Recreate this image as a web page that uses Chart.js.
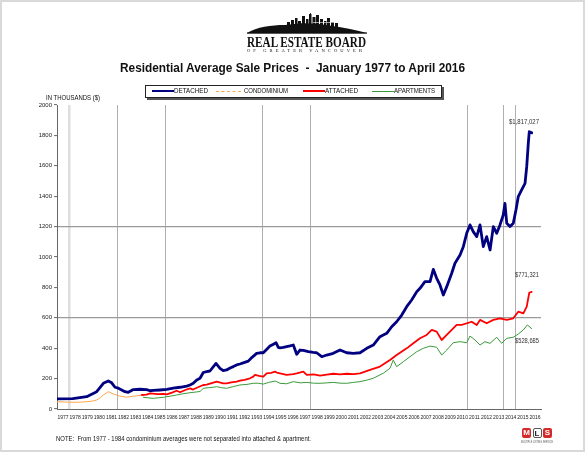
<!DOCTYPE html>
<html><head><meta charset="utf-8">
<script src="https://cdn.jsdelivr.net/npm/chart.js@4.4.1/dist/chart.umd.min.js"></script>
<style>
html,body{margin:0;padding:0;background:#fff;}
#page{position:relative;width:585px;height:452px;overflow:hidden;font-family:"Liberation Sans",Arial,sans-serif;color:#111;}
#frame{position:absolute;left:0;top:0;width:581px;height:448px;border:2px solid #d9d9d9;pointer-events:none;z-index:5;}
#c{position:absolute;left:0;top:0;}
.t{position:absolute;white-space:pre;transform-origin:0 0;line-height:1;}
#legend{position:absolute;left:145px;top:85px;width:297px;height:13px;box-sizing:border-box;border:1px solid #222;background:#fff;box-shadow:2px 2px 0 #555;}
.lg{position:absolute;height:0;}
.mls{position:absolute;top:428px;width:9px;height:10px;border-radius:2px;font:bold 8px/10px "Liberation Sans",Arial,sans-serif;text-align:center;color:#fff;}
</style></head>
<body><div id="page">
<canvas id="c" width="585" height="452"></canvas>
<svg id="logo" style="position:absolute;left:247px;top:13px" width="120" height="22" viewBox="0 0 120 22">
 <path d="M0,20 C10,14 24,12 38,12 L52,10.5 C62,10 72,11 82,12.5 C96,14 108,17 120,20 Z" fill="#111"/>
 <rect x="0" y="19.5" width="120" height="1.2" fill="#111"/>
 <rect x="40" y="9" width="3" height="4" fill="#111"/>
 <rect x="44" y="7" width="3" height="6" fill="#111"/>
 <rect x="48" y="5" width="2.5" height="7" fill="#111"/>
 <rect x="51" y="8" width="3" height="5" fill="#111"/>
 <rect x="55" y="3" width="3" height="9" fill="#111"/>
 <rect x="59" y="6" width="2.5" height="6" fill="#111"/>
 <rect x="62" y="1" width="2.5" height="11" fill="#111"/>
 <rect x="63" y="0" width="0.8" height="2" fill="#111"/>
 <rect x="65.5" y="4" width="3" height="8" fill="#111"/>
 <rect x="69" y="2" width="3" height="10" fill="#111"/>
 <rect x="73" y="6" width="3" height="7" fill="#111"/>
 <rect x="77" y="8" width="2.5" height="5" fill="#111"/>
 <rect x="80" y="5" width="3" height="8" fill="#111"/>
 <rect x="84" y="9" width="3" height="5" fill="#111"/>
 <rect x="88" y="10" width="3" height="4" fill="#111"/>
 <rect x="66" y="9" width="30" height="1" fill="#fff" opacity="0.6"/>
</svg>
<div class="t" id="reb" style="font-family:'Liberation Serif','DejaVu Serif',serif;font-weight:bold;font-size:15px;top:34.5px;">REAL ESTATE BOARD</div>
<div class="t" id="ogv" style="font-family:'Liberation Serif','DejaVu Serif',serif;font-size:4.5px;letter-spacing:3px;top:49px;">OF GREATER VANCOUVER</div>
<div class="t" id="title" style="font-weight:bold;font-size:13px;top:60.6px;">Residential Average Sale Prices  -  January 1977 to April 2016</div>
<div id="legend"></div>
<div class="lg" style="left:152px;top:90px;width:22px;border-top:2.5px solid #000080;"></div>
<div class="lg" style="left:216px;top:91px;width:25px;border-top:1px dashed #ffa64d;"></div>
<div class="lg" style="left:303px;top:90px;width:22px;border-top:2px solid #ff0000;"></div>
<div class="lg" style="left:372px;top:90.5px;width:22px;border-top:1px solid #3a9a3a;"></div>
<div class="t" id="lg1" style="font-size:6.3px;top:88.2px;">DETACHED</div>
<div class="t" id="lg2" style="font-size:6.3px;top:88.2px;">CONDOMINIUM</div>
<div class="t" id="lg3" style="font-size:6.3px;top:88.2px;">ATTACHED</div>
<div class="t" id="lg4" style="font-size:6.3px;top:88.2px;">APARTMENTS</div>
<div class="t" id="unit" style="font-size:6.3px;top:94.7px;">IN THOUSANDS ($)</div>
<div class="t" id="a1" style="font-size:6.3px;top:119px;color:#333;">$1,817,027</div>
<div class="t" id="a2" style="font-size:6.3px;top:272px;color:#333;">$771,321</div>
<div class="t" id="a3" style="font-size:6.3px;top:338px;color:#333;">$528,685</div>
<div class="t" id="note" style="font-size:6.3px;top:436px;">NOTE:  From 1977 - 1984 condominium averages were not separated into attached &amp; apartment.</div>
<div class="mls" style="left:522px;background:#d42a2a;">M</div>
<div class="mls" style="left:532.5px;background:#fff;color:#222;border:1px solid #555;box-sizing:border-box;">L</div>
<div class="mls" style="left:543px;background:#d42a2a;">S</div>
<div class="t" id="mlst" style="font-size:3px;top:441px;color:#555;">MULTIPLE LISTING SERVICE</div>
<div id="frame"></div>
</div>
<script>
// ---------- data (thousands of dollars; x = decimal year) ----------
const yearLabels = ["1977","1978","1979","1980","1981","1982","1983","1984","1985","1986","1987","1988","1989","1990","1991","1992","1993","1994","1995","1996","1997","1998","1999","2000","2001","2002","2003","2004","2005","2006","2007","2008","2009","2010","2011","2012","2013","2014","2015","2016"];
const yTicks = [0,200,400,600,800,1000,1200,1400,1600,1800,2000];
const gridYears = [1978.0,1982.0,1985.95,1993.98,1997.95,2010.92,2013.9,2014.9];

const detachedT = [1977.0,1978.3,1979.45,1980.28,1980.83,1981.24,1981.52,1981.79,1982.07,1982.62,1982.89,1983.31,1983.86,1984.41,1984.69,1984.96,1985.51,1986.07,1986.61,1987.17,1987.72,1987.99,1988.26,1988.55,1988.82,1989.09,1989.37,1989.64,1990.14,1990.47,1990.74,1991.02,1991.30,1991.57,1991.85,1992.12,1992.45,1992.81,1993.12,1993.50,1993.78,1994.05,1994.36,1994.60,1994.85,1995.10,1995.29,1995.43,1995.70,1995.98,1996.26,1996.53,1996.81,1997.08,1997.36,1997.77,1998.18,1998.46,1998.88,1999.29,1999.83,2000.39,2000.94,2001.49,2002.04,2002.60,2003.14,2003.69,2004.25,2004.66,2005.07,2005.49,2005.90,2006.31,2006.73,2007.00,2007.41,2007.83,2008.10,2008.38,2008.65,2008.93,2009.21,2009.62,2009.89,2010.31,2010.58,2010.86,2011.13,2011.40,2011.69,2011.96,2012.23,2012.51,2012.79,2013.06,2013.34,2013.61,2013.88,2014.02,2014.17,2014.44,2014.71,2014.93,2015.12,2015.40,2015.68,2015.82,2015.95,2016.03,2016.23];
const detachedV = [66,68,81,114,169,184,172,143,137,114,110,128,130,127,120,122,125,129,138,143,151,158,169,191,202,240,246,250,300,268,252,257,270,279,290,296,305,315,340,366,370,370,395,414,425,436,405,402,405,410,415,421,360,388,385,377,372,370,344,355,366,388,370,366,370,399,421,476,498,541,574,618,673,717,772,794,838,838,919,860,816,750,805,893,959,1013,1068,1156,1211,1167,1134,1211,1068,1134,1046,1200,1156,1211,1276,1353,1222,1200,1222,1309,1397,1441,1485,1594,1748,1824,1817];

const condoT = [1977.0,1977.7,1978.32,1978.9,1979.45,1979.9,1980.28,1980.6,1980.83,1981.24,1981.65,1982.2,1982.75,1983.31,1983.94];
const condoV = [48,46,44,45,48,52,59,75,92,114,99,85,78,84,90];

const attachedT = [1984.0,1984.4,1984.69,1985.3,1985.79,1986.07,1986.5,1986.89,1987.17,1987.6,1987.99,1988.24,1988.7,1989.09,1989.37,1989.92,1990.2,1990.74,1991.02,1991.4,1991.85,1992.12,1992.5,1992.95,1993.22,1993.36,1993.7,1994.05,1994.33,1994.7,1995.02,1995.16,1995.43,1995.98,1996.53,1996.81,1997.36,1997.64,1998.2,1998.74,1999.3,1999.83,2000.4,2000.94,2001.5,2002.04,2002.87,2003.69,2004.52,2005.07,2005.90,2006.45,2007.00,2007.55,2007.97,2008.38,2008.79,2009.21,2009.62,2010.03,2010.45,2010.86,2011.27,2011.69,2011.96,2012.51,2013.06,2013.61,2014.17,2014.71,2015.12,2015.54,2015.82,2016.03,2016.23];
const attachedV = [92,95,103,98,100,96,108,120,110,125,136,128,145,158,160,173,180,169,169,175,180,186,192,202,213,224,218,213,235,238,246,240,235,224,230,235,246,224,228,219,226,232,228,232,230,235,257,279,322,355,399,432,465,487,520,509,454,487,520,553,553,564,574,553,586,564,586,597,586,597,640,629,673,765,771];

const apartmentsT = [1984.13,1984.96,1985.4,1985.79,1986.4,1986.89,1987.4,1987.99,1988.5,1988.82,1989.09,1989.5,1989.9,1990.2,1990.6,1991.02,1991.6,1992.12,1992.7,1993.22,1993.6,1994.05,1994.5,1995.02,1995.16,1995.43,1995.98,1996.53,1997.1,1997.64,1998.2,1998.74,1999.3,1999.83,2000.4,2000.94,2001.5,2002.04,2002.6,2003.14,2003.96,2004.52,2004.79,2005.07,2005.62,2006.17,2006.73,2007.27,2007.83,2008.38,2008.79,2009.21,2009.75,2010.31,2010.86,2011.13,2011.55,2011.96,2012.37,2012.79,2013.34,2013.75,2014.17,2014.71,2015.12,2015.54,2015.87,2016.23];
const apartmentsV = [77,70,74,77,85,92,100,107,112,115,136,140,143,147,140,136,148,158,162,169,170,164,175,184,180,169,166,180,172,175,170,169,172,175,170,169,175,180,190,202,235,268,322,279,311,344,377,399,414,406,355,388,436,443,436,480,454,421,443,432,472,432,465,472,493,520,553,529];

const pts = (t, v) => t.map((x, i) => ({x: x, y: v[i]}));

// ---------- text fitting helper (layout only) ----------
function fit(id, left, width) {
  const el = document.getElementById(id);
  el.style.left = left + 'px';
  const w = el.getBoundingClientRect().width;
  el.style.transform = 'scaleX(' + (width / w) + ')';
}
fit('reb', 247, 119);
fit('ogv', 247, 118);
fit('title', 120, 345);
fit('lg1', 174, 34);
fit('lg2', 244, 44);
fit('lg3', 325, 33);
fit('lg4', 394, 41);
fit('unit', 46, 54);
fit('a1', 509, 30);
fit('a2', 515, 24);
fit('a3', 515, 24);
fit('note', 56, 255);
fit('mlst', 521, 32);

const FONT = '"Liberation Sans", Arial, sans-serif';

new Chart(document.getElementById('c'), {
  type: 'line',
  data: {
    datasets: [
      {label: 'APARTMENTS', data: pts(apartmentsT, apartmentsV), borderColor: '#3a9a3a', borderWidth: 1, order: 4},
      {label: 'ATTACHED', data: pts(attachedT, attachedV), borderColor: '#ff0000', borderWidth: 1.8, order: 3},
      {label: 'CONDOMINIUM', data: pts(condoT, condoV), borderColor: '#ffa64d', borderWidth: 1, order: 2},
      {label: 'DETACHED', data: pts(detachedT, detachedV), borderColor: '#000080', borderWidth: 2.8, order: 1}
    ]
  },
  options: {
    responsive: false,
    animation: false,
    events: [],
    layout: {padding: {left: 0, right: 44, top: 105, bottom: 0}},
    elements: {
      point: {radius: 0},
      line: {tension: 0, borderJoinStyle: 'round', borderCapStyle: 'round', fill: false}
    },
    plugins: {legend: {display: false}, tooltip: {enabled: false}, title: {display: false}},
    scales: {
      x: {
        type: 'linear', position: 'bottom', min: 1977, max: 2017,
        afterBuildTicks: s => { s.ticks = yearLabels.map((l, i) => ({value: 1977.5 + i})); },
        afterFit: s => { s.height = 43; },
        ticks: {
          autoSkip: false, maxRotation: 0, minRotation: 0, padding: 3,
          font: {family: FONT, size: 5}, color: '#222',
          callback: (v, i) => yearLabels[i]
        },
        grid: {display: true, drawOnChartArea: false, color: 'rgba(0,0,0,0)', tickLength: 3},
        border: {display: true, color: '#666', width: 1}
      },
      xg: {
        type: 'linear', position: 'bottom', min: 1977, max: 2017,
        afterBuildTicks: s => { s.ticks = gridYears.map(v => ({value: v})); },
        afterFit: s => { s.height = 0; },
        ticks: {display: false},
        grid: {
          drawTicks: false,
          color: c => c.index === 0 ? '#dedede' : '#b0b0b0',
          lineWidth: c => c.index === 0 ? 2.5 : 1
        },
        border: {display: false}
      },
      y: {
        type: 'linear', min: 0, max: 2000,
        afterBuildTicks: s => { s.ticks = yTicks.map(v => ({value: v})); },
        afterFit: s => { s.width = 57; },
        ticks: {font: {family: FONT, size: 6}, color: '#222', padding: 2, callback: v => String(v)},
        grid: {
          color: c => (c.tick && (c.tick.value === 600 || c.tick.value === 1200)) ? '#9a9a9a' : 'rgba(0,0,0,0)',
          lineWidth: 1.2,
          tickColor: '#666', tickWidth: 1, tickLength: 3
        },
        border: {display: true, color: '#666', width: 1}
      }
    }
  }
});
</script>
</body></html>
